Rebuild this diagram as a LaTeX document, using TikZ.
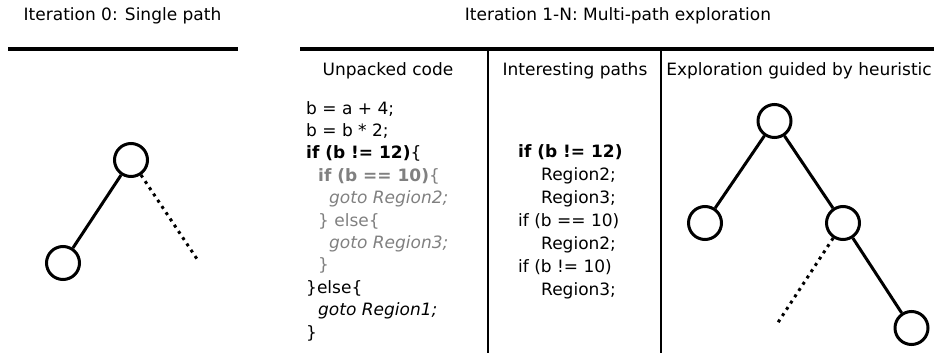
\documentclass[tikz,border=0pt]{standalone}
\usepackage{fontspec}
\setmainfont{DejaVu Sans}
\usepackage{tikz}
\definecolor{codegray}{RGB}{128,128,128}
\tikzset{
	knot/.style={draw, circle, line width=3pt, minimum size=33pt, inner sep=0pt},
	edge/.style={line width=3pt},
	dotedge/.style={line width=3pt, dash pattern=on 3pt off 4.5pt},
	rule/.style={line width=3.5pt},
	sep/.style={line width=1.4pt},
	title/.style={anchor=base, inner sep=0pt},
	codeline/.style={anchor=base west, inner sep=0pt},
}

\begin{document}
\begin{tikzpicture}[x=1pt, y=-1pt, font=\fontsize{17}{20}\selectfont]
			%%%%% FRAME %%%%%
			\useasboundingbox (0,0) rectangle (934,353);
			
			\node[title] (t0) at (122.5,21) {Iteration 0: Single path};
			\node[title] (t1) at (618,21) {Iteration 1-N: Multi-path exploration};
			\draw[rule] (8,49) -- (238,49);
			\draw[rule] (300,49) -- (934,49);
			\draw[sep] (488,49) -- (488,353);
			\draw[sep] (661,49) -- (661,353);
			
			\node[title] (h1) at (388,75) {Unpacked code};
			\node[title] (h2) at (575,75) {Interesting paths};
			\node[title] (h3) at (799,75) {Exploration guided by heuristic};
			
			%%%%% ITERATION 0 %%%%%
			\node[knot] (a0) at (131,160) {};
			\node[knot] (a1) at (63,263) {};
			\coordinate (a2) at (199,262);
			\draw[edge] (a0) -- (a1);
			\draw[dotedge] (a0) -- (a2);
			
			%%%%% UNPACKED CODE %%%%%
			\node[codeline] (c1) at (306,114) {b = a + 4;};
			\node[codeline] (c2) at (306,136.4) {b = b * 2;};
			\node[codeline] (c3) at (306,158.8) {{\bfseries if (b != 12)}\{};
			\node[codeline, codegray] (c4) at (318,181.2) {{\bfseries if (b == 10)}\{};
			\node[codeline, codegray] (c5) at (329,203.6) {\itshape goto Region2;};
			\node[codeline, codegray] (c6) at (318,226) {\} else\{};
			\node[codeline, codegray] (c7) at (329,248.4) {\itshape goto Region3;};
			\node[codeline, codegray] (c8) at (318,270.8) {\}};
			\node[codeline] (c9) at (306,293.2) {\}else\{};
			\node[codeline] (c10) at (318,315.6) {\itshape goto Region1;};
			\node[codeline] (c11) at (306,338) {\}};
			
			%%%%% INTERESTING PATHS %%%%%
			\node[codeline] (p1) at (518,157) {\bfseries if (b != 12)};
			\node[codeline] (p2) at (541,180) {Region2;};
			\node[codeline] (p3) at (541,203) {Region3;};
			\node[codeline] (p4) at (518,226) {if (b == 10)};
			\node[codeline] (p5) at (541,249) {Region2;};
			\node[codeline] (p6) at (518,272) {if (b != 10)};
			\node[codeline] (p7) at (541,295) {Region3;};
			
			%%%%% HEURISTIC TREE %%%%%
			\node[knot] (r0) at (774.5,121) {};
			\node[knot] (r1) at (705,223) {};
			\node[knot] (r2) at (843,223) {};
			\node[knot] (r3) at (911.5,328) {};
			\coordinate (r4) at (777,324);
			\draw[edge] (r0) -- (r1);
			\draw[edge] (r0) -- (r2);
			\draw[edge] (r2) -- (r3);
			\draw[dotedge] (r2) -- (r4);
			
			%%%%% END %%%%%
\end{tikzpicture}
\end{document}
